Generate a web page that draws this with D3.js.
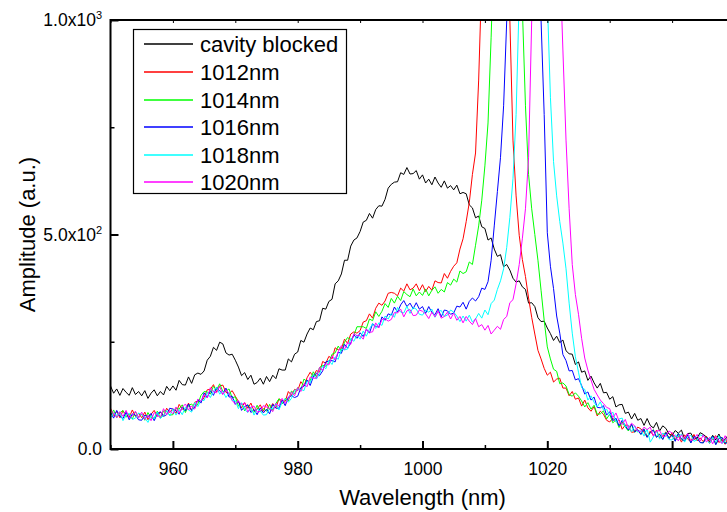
<!DOCTYPE html>
<html>
<head>
<meta charset="utf-8">
<script src="https://cdn.jsdelivr.net/npm/d3@7"></script>
<style>
  body { margin: 0; background: #fff; }
  text { font-family: "Liberation Sans", Arial, sans-serif; fill: #000; }
</style>
</head>
<body>
<svg id="chart" width="727" height="512"></svg>
<script>
// spectra sampled every 0.5 nm from 950 nm
var wlStart = 950;
var wlStep = 0.5;

var cavityBlocked = [
  147,130,140,125,141,132,125,143,127,134,
  124,136,118,130,138,124,134,126,146,136,
  147,137,160,150,149,168,153,173,177,174,
  182,207,216,237,230,249,245,224,219,221,
  207,191,171,178,162,172,151,155,165,151,
  169,157,172,164,187,184,184,210,203,221,
  226,253,249,268,282,278,297,299,328,326,
  344,349,385,392,408,440,440,473,487,492,
  507,529,533,549,538,558,567,566,582,608,
  617,622,623,644,640,656,641,642,649,629,
  639,620,629,616,634,620,610,625,608,614,
  604,615,595,598,595,569,562,539,543,518,
  514,487,492,466,449,453,425,430,417,398,
  389,392,378,372,340,341,332,306,297,298,
  282,269,253,263,248,254,229,222,221,197,
  203,179,182,160,170,154,142,153,131,132,
  116,122,98,103,104,83,86,70,83,67,
  71,55,71,55,49,62,42,54,48,35,
  32,43,37,44,23,36,37,23,25,38,
  34,28,17,32,21,35,18,22,33,18,
  22
];

var cav1012 = [
  95,78,88,73,89,80,74,91,76,83,
  73,86,68,81,90,76,86,77,95,85,
  94,83,104,93,90,107,90,109,112,109,
  120,138,139,150,133,147,149,132,129,136,
  123,111,96,108,95,107,89,93,103,88,
  106,92,106,96,117,112,111,134,125,139,
  136,157,147,166,179,169,183,179,204,200,
  216,210,236,231,234,256,246,268,273,270,
  276,296,299,315,305,328,340,335,345,363,
  365,363,357,375,368,385,371,375,385,369,
  383,367,379,370,392,388,387,409,398,414,
  426,434,466,490,530,575,640,690,860,1100,
  1800,2500,3000,3200,3300,3000,2400,1500,1000,720,
  590,498,442,402,352,307,268,230,210,188,
  172,179,156,163,165,142,142,124,134,116,
  119,100,114,96,88,99,77,88,81,67,
  63,72,64,68,46,56,55,39,40,51,
  47,39,28,42,31,44,26,30,40,24,
  38,21,31,16,33,23,17,34,19,26,
  17,30,13,24,31,15,22,11,28,15,
  18
];

var cav1014 = [
  78,91,73,84,90,74,82,70,87,74,
  81,67,85,73,71,88,72,89,87,79,
  80,95,93,103,85,101,105,96,105,125,
  134,133,128,146,138,152,134,135,140,119,
  122,100,106,89,103,92,85,102,86,94,
  88,104,90,106,117,105,118,112,135,129,
  143,137,163,157,159,180,168,190,195,193,
  201,221,224,240,228,249,260,254,265,285,
  285,285,281,303,299,320,309,321,339,330,
  351,340,356,346,367,360,355,373,357,366,
  358,373,357,370,378,363,372,366,388,382,
  396,389,415,409,413,436,430,475,520,580,
  660,760,960,1200,1800,2400,2800,3000,3000,2800,
  2400,1300,1030,800,640,560,500,440,370,300,
  238,210,186,181,152,154,147,127,123,131,
  123,112,98,108,93,102,81,82,89,70,
  81,61,68,50,63,51,42,57,39,45,
  34,47,28,39,45,28,35,23,39,26,
  33,19,37,23,19,33,15,29,26,15,
  15,27,23,30,11,25,27,14,15,10,
  6
];

var cav1016 = [
  86,72,90,76,71,86,68,82,79,68,
  67,79,74,83,66,82,87,76,80,95,
  93,89,81,98,89,105,89,98,115,107,
  131,120,136,125,144,135,128,142,121,123,
  104,112,90,99,103,85,92,80,96,84,
  93,82,104,95,95,114,101,121,124,120,
  123,143,146,161,148,168,177,171,182,203,
  205,206,203,226,223,244,235,247,266,258,
  271,262,279,270,292,286,284,308,300,315,
  312,331,319,336,346,332,340,327,341,326,
  332,316,332,318,313,327,308,324,322,314,
  317,333,331,342,326,344,352,345,355,375,
  372,390,440,520,600,680,800,1000,1300,1800,
  2200,2600,2800,2800,2600,2200,1800,1300,1000,780,
  504,426,374,310,270,220,206,182,183,161,
  164,148,128,133,114,121,97,96,101,79,
  87,66,72,54,67,54,44,58,40,45,
  34,46,27,38,44,27,34,22,38,25,
  32,18,36,23,18,33,14,29,25,15,
  14,27,22,30,10,24,27,13,16,29,
  16
];

var cav1018 = [
  72,84,79,86,66,80,83,69,72,84,
  80,73,62,78,70,86,71,78,90,77,
  93,79,92,80,98,91,86,108,99,114,
  113,132,120,135,144,128,135,120,131,113,
  113,94,108,92,85,98,79,93,89,79,
  80,95,94,106,91,109,117,109,118,137,
  138,139,136,158,154,174,163,175,194,187,
  206,197,215,209,233,231,233,258,251,266,
  256,275,263,280,292,281,294,288,310,303,
  316,307,330,319,317,333,316,330,326,314,
  312,324,319,326,307,320,323,309,312,324,
  319,310,297,310,298,312,296,303,316,305,
  324,313,339,347,372,392,420,470,540,630,
  780,1050,1400,1900,2400,2600,2600,2400,2000,1500,
  1050,820,670,590,530,480,420,340,270,215,
  179,143,139,114,124,109,98,110,91,93,
  78,86,63,70,72,51,55,40,54,39,
  45,30,47,16,28,42,23,37,33,22,
  21,33,28,35,16,29,32,18,21,33,
  30,23,13,27,17,31,13,18,29,13,
  17
];

var cav1020 = [
  91,84,73,87,76,90,73,77,88,72,
  86,69,79,66,85,78,74,94,80,90,
  82,98,83,97,105,91,100,93,116,111,
  127,119,143,133,131,146,127,138,129,113,
  105,112,103,108,86,98,100,86,88,101,
  98,94,87,106,100,118,106,116,133,124,
  143,134,152,145,168,165,165,190,183,199,
  196,217,207,227,241,232,248,244,269,264,
  264,256,280,272,273,294,282,302,304,298,
  302,318,317,326,308,322,325,311,312,324,
  321,315,304,319,308,322,305,309,319,303,
  317,300,309,294,309,298,290,304,285,290,
  277,288,268,277,286,279,302,309,341,348,
  385,430,490,560,680,1000,1500,2200,2600,2800,
  2800,2600,2200,1600,1150,930,720,560,430,360,
  314,258,212,184,161,139,126,114,106,97,
  94,73,84,65,57,69,48,60,54,42,
  40,51,45,51,30,42,43,29,30,42,
  37,30,19,33,23,36,19,23,34,18,
  33,16,27,12,29,19,13,31,15,23,
  18
];

var seriesNames = ["cavity blocked", "1012nm", "1014nm", "1016nm", "1018nm", "1020nm"];
var seriesValues = [cavityBlocked, cav1012, cav1014, cav1016, cav1018, cav1020];
var seriesColors = ["#000000", "#ff0000", "#00ff00", "#0000ff", "#00ffff", "#ff00ff"];

var xTicks = [960, 980, 1000, 1020, 1040];
var xMinorTicks = [950, 970, 990, 1010, 1030, 1050];
var yTicks = [0, 500, 1000];
var yTickMantissa = ["0.0", "5.0x10", "1.0x10"];
var yTickExponent = ["", "2", "3"];
var yMinorTicks = [250, 750];

var svg = d3.select("#chart");

var plotLeft = 110.5, plotRight = 734.5, plotTop = 20, plotBottom = 449;

var x = d3.scaleLinear().domain([950, 1050]).range([plotLeft, plotRight]);
var y = d3.scaleLinear().domain([0, 1000]).range([plotBottom, plotTop]);

svg.append("rect").attr("width", 727).attr("height", 512).attr("fill", "#fff");

svg.append("clipPath").attr("id", "plotclip")
  .append("rect")
  .attr("x", plotLeft).attr("y", plotTop)
  .attr("width", plotRight - plotLeft).attr("height", plotBottom - plotTop);

// spectra
var line = d3.line()
  .x(function(d, i) { return x(wlStart + i * wlStep); })
  .y(function(d) { return y(d); });

var lines = svg.append("g").attr("clip-path", "url(#plotclip)");
seriesValues.forEach(function(vals, k) {
  lines.append("path")
    .datum(vals)
    .attr("d", line)
    .attr("fill", "none")
    .attr("stroke", seriesColors[k])
    .attr("stroke-width", 1)
    .attr("stroke-linejoin", "round");
});

// x axis
var xAxisG = svg.append("g")
  .attr("transform", "translate(0," + plotBottom + ")")
  .call(d3.axisBottom(x).tickValues(xTicks).tickSize(-8).tickFormat(d3.format("d")));
xAxisG.select(".domain").remove();
xAxisG.selectAll("line").attr("stroke-width", 2);
xAxisG.selectAll("text")
  .attr("y", 25.5).attr("dy", null)
  .style("font-size", "17.5px");

var xMinorG = svg.append("g")
  .attr("transform", "translate(0," + plotBottom + ")")
  .call(d3.axisBottom(x).tickValues(xMinorTicks).tickSize(-4).tickFormat(""));
xMinorG.select(".domain").remove();
xMinorG.selectAll("line").attr("stroke-width", 1.5);

// top axis marks
var xTopG = svg.append("g")
  .attr("transform", "translate(0," + plotTop + ")")
  .call(d3.axisTop(x).tickValues(xTicks.concat(xMinorTicks)).tickSize(-3).tickFormat(""));
xTopG.select(".domain").remove();

// y axis
var yAxisG = svg.append("g")
  .attr("transform", "translate(" + plotLeft + ",0)")
  .call(d3.axisLeft(y).tickValues(yTicks).tickSize(-8).tickFormat(""));
yAxisG.select(".domain").remove();
yAxisG.selectAll("line").attr("stroke-width", 2);

var yMinorG = svg.append("g")
  .attr("transform", "translate(" + plotLeft + ",0)")
  .call(d3.axisLeft(y).tickValues(yMinorTicks).tickSize(-4).tickFormat(""));
yMinorG.select(".domain").remove();
yMinorG.selectAll("line").attr("stroke-width", 1.5);

yTicks.forEach(function(v, i) {
  var t = svg.append("text")
    .attr("x", 102)
    .attr("y", y(v) + 6)
    .attr("text-anchor", "end")
    .style("font-size", "17.5px");
  t.append("tspan").text(yTickMantissa[i]);
  if (yTickExponent[i]) {
    t.append("tspan")
      .attr("dy", -7)
      .style("font-size", "11px")
      .text(yTickExponent[i]);
  }
});

// frame
svg.append("rect")
  .attr("x", plotLeft).attr("y", plotTop)
  .attr("width", plotRight - plotLeft).attr("height", plotBottom - plotTop)
  .attr("fill", "none")
  .attr("stroke", "#000")
  .attr("stroke-width", 2);

// axis titles
svg.append("text")
  .attr("x", (plotLeft + plotRight) / 2)
  .attr("y", 505)
  .attr("text-anchor", "middle")
  .style("font-size", "22px")
  .text("Wavelength (nm)");

svg.append("text")
  .attr("transform", "translate(35," + ((plotTop + plotBottom) / 2) + ") rotate(-90)")
  .attr("text-anchor", "middle")
  .style("font-size", "22px")
  .text("Amplitude (a.u.)");

// legend
var legend = svg.append("g");
legend.append("rect")
  .attr("x", 133.5).attr("y", 29.5)
  .attr("width", 213).attr("height", 164)
  .attr("fill", "#fff")
  .attr("stroke", "#000")
  .attr("stroke-width", 1.2);

seriesNames.forEach(function(name, i) {
  var ry = 44.3 + i * 27.6;
  legend.append("line")
    .attr("x1", 144).attr("x2", 193)
    .attr("y1", Math.round(ry)).attr("y2", Math.round(ry))
    .attr("stroke", seriesColors[i])
    .attr("stroke-width", 1.6);
  legend.append("text")
    .attr("x", 200)
    .attr("y", ry + 8)
    .style("font-size", "22px")
    .text(name);
});
</script>
</body>
</html>
